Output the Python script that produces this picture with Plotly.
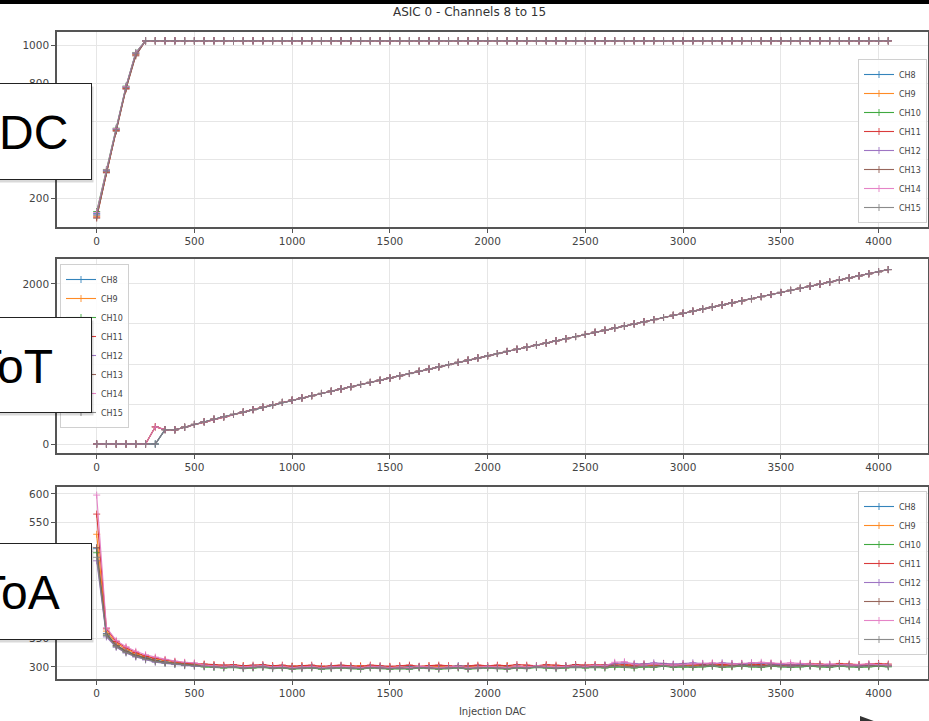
import plotly.graph_objects as go

W, H = 929, 721

# ---------------- data ----------------
CHANNELS = ["CH8", "CH9", "CH10", "CH11", "CH12", "CH13", "CH14", "CH15"]
COLORS = ["#1f77b4", "#ff7f0e", "#2ca02c", "#d62728", "#9467bd", "#8c564b", "#e377c2", "#7f7f7f"]

INJ_DAC = [
    0, 50, 100, 150, 200, 250, 300, 350, 400, 450,
    500, 550, 600, 650, 700, 750, 800, 850, 900, 950,
    1000, 1050, 1100, 1150, 1200, 1250, 1300, 1350, 1400, 1450,
    1500, 1550, 1600, 1650, 1700, 1750, 1800, 1850, 1900, 1950,
    2000, 2050, 2100, 2150, 2200, 2250, 2300, 2350, 2400, 2450,
    2500, 2550, 2600, 2650, 2700, 2750, 2800, 2850, 2900, 2950,
    3000, 3050, 3100, 3150, 3200, 3250, 3300, 3350, 3400, 3450,
    3500, 3550, 3600, 3650, 3700, 3750, 3800, 3850, 3900, 3950,
    4000, 4050,
]

# ADC: rising part (DAC 0..200) per channel, then saturation (DAC 250..4050)
ADC_RISE = {
    "CH8": [120, 345, 562, 782, 958],
    "CH9": [105, 338, 556, 776, 952],
    "CH10": [130, 350, 566, 786, 962],
    "CH11": [100, 335, 553, 773, 948],
    "CH12": [115, 342, 560, 780, 956],
    "CH13": [95, 332, 550, 770, 944],
    "CH14": [125, 348, 564, 784, 960],
    "CH15": [110, 340, 558, 778, 954],
}
ADC_SAT = [
    1023, 1023, 1023, 1023, 1023, 1023, 1023, 1023, 1023, 1023,
    1023, 1023, 1023, 1023, 1023, 1023, 1023, 1023, 1023, 1023,
    1023, 1023, 1023, 1023, 1023, 1023, 1023, 1023, 1023, 1023,
    1023, 1023, 1023, 1023, 1023, 1023, 1023, 1023, 1023, 1023,
    1023, 1023, 1023, 1023, 1023, 1023, 1023, 1023, 1023, 1023,
    1023, 1023, 1023, 1023, 1023, 1023, 1023, 1023, 1023, 1023,
    1023, 1023, 1023, 1023, 1023, 1023, 1023, 1023, 1023, 1023,
    1023, 1023, 1023, 1023, 1023, 1023, 1023,
]

# ToT: start (DAC 0..350), two behaviours, then common linear part (DAC 400..4050)
TOT_START_A = [0, 0, 0, 0, 0, 0, 215, 180]
TOT_START_B = [0, 0, 0, 0, 0, 0, 0, 180]
TOT_START_OF = {"CH8": "B", "CH9": "A", "CH10": "B", "CH11": "A",
                "CH12": "B", "CH13": "A", "CH14": "A", "CH15": "B"}
TOT_LINEAR = [
    178, 210, 245, 278, 310, 340, 370, 400, 430, 460,
    490, 520, 548, 576, 604, 632, 660, 688, 716, 744,
    770, 797, 825, 853, 881, 909, 937, 965, 993, 1020,
    1048, 1076, 1104, 1131, 1157, 1184, 1210, 1237, 1263, 1290,
    1316, 1343, 1369, 1396, 1422, 1449, 1475, 1502, 1528, 1555,
    1581, 1608, 1634, 1660, 1686, 1712, 1738, 1764, 1790, 1816,
    1842, 1868, 1894, 1920, 1946, 1972, 1998, 2024, 2050, 2076,
    2102, 2128, 2154, 2180,
]

# ToA: head (DAC 0..500) and tail (DAC 550..4050) per channel
TOA_HEAD = {
    "CH8": [505, 358, 338, 328, 321, 316, 312, 309, 307, 305, 304],
    "CH9": [530, 362, 341, 331, 323, 318, 314, 311, 308, 306, 305],
    "CH10": [498, 355, 336, 326, 319, 314, 310, 307, 305, 303, 302],
    "CH11": [565, 366, 344, 333, 325, 319, 315, 312, 309, 307, 306],
    "CH12": [484, 352, 334, 324, 317, 312, 308, 306, 304, 302, 301],
    "CH13": [507, 357, 337, 327, 320, 315, 311, 308, 306, 304, 303],
    "CH14": [598, 368, 346, 335, 327, 321, 317, 313, 310, 308, 307],
    "CH15": [490, 354, 335, 325, 318, 313, 309, 307, 305, 303, 302],
}
TOA_TAIL = {
    "CH8": [
        303, 302, 301, 302, 300, 301, 302, 300, 299, 301,
        300, 301, 299, 300, 302, 300, 299, 300, 301, 299,
        300, 301, 300, 299, 301, 300, 302, 301, 300, 301,
        299, 300, 301, 300, 302, 301, 300, 302, 303, 302,
        301, 303, 302, 301, 303, 302, 304, 302, 303, 302,
        303, 304, 302, 303, 302, 304, 303, 302, 303, 304,
        302, 303, 302, 304, 303, 302, 303, 302, 304, 303,
        302],
    "CH9": [
        304, 303, 302, 301, 302, 300, 301, 302, 300, 301,
        302, 300, 301, 299, 300, 301, 302, 300, 299, 300,
        301, 299, 300, 302, 300, 301, 299, 300, 301, 300,
        301, 302, 300, 301, 300, 302, 301, 300, 302, 301,
        303, 302, 301, 302, 304, 303, 302, 303, 301, 302,
        303, 302, 304, 303, 301, 302, 303, 304, 302, 303,
        301, 302, 303, 302, 301, 303, 302, 304, 302, 301,
        303],
    "CH10": [
        300, 299, 298, 299, 297, 298, 299, 297, 298, 296,
        297, 298, 296, 297, 298, 297, 296, 298, 297, 296,
        297, 296, 298, 297, 296, 297, 298, 296, 297, 298,
        297, 296, 298, 297, 299, 298, 297, 298, 299, 298,
        299, 298, 300, 299, 298, 300, 299, 301, 299, 300,
        299, 300, 301, 299, 300, 301, 300, 299, 301, 300,
        299, 300, 301, 300, 299, 301, 300, 299, 300, 301,
        300],
    "CH11": [
        305, 304, 303, 304, 302, 303, 304, 302, 303, 301,
        302, 303, 301, 302, 303, 302, 301, 303, 302, 301,
        302, 303, 301, 302, 303, 302, 301, 302, 303, 302,
        303, 302, 304, 303, 302, 304, 303, 302, 304, 303,
        304, 303, 305, 304, 303, 305, 304, 306, 304, 305,
        304, 305, 306, 304, 305, 306, 305, 304, 306, 305,
        304, 305, 306, 305, 304, 306, 305, 304, 305, 306,
        305],
    "CH12": [
        301, 300, 299, 300, 298, 299, 300, 298, 299, 297,
        298, 299, 297, 298, 299, 298, 297, 299, 298, 297,
        298, 297, 299, 298, 297, 298, 299, 297, 298, 299,
        298, 297, 299, 298, 300, 299, 298, 299, 300, 299,
        301, 302, 306, 307, 306, 305, 307, 306, 305, 306,
        307, 306, 305, 307, 306, 305, 307, 306, 305, 304,
        303, 304, 303, 302, 303, 304, 303, 302, 303, 304,
        303],
    "CH13": [
        302, 301, 300, 301, 299, 300, 301, 299, 300, 298,
        299, 300, 298, 299, 300, 299, 298, 300, 299, 298,
        299, 298, 300, 299, 298, 299, 300, 298, 299, 300,
        299, 298, 300, 299, 301, 300, 299, 300, 301, 300,
        301, 300, 302, 301, 300, 302, 301, 303, 301, 302,
        301, 302, 303, 301, 302, 303, 302, 301, 303, 302,
        301, 302, 303, 302, 301, 303, 302, 301, 302, 303,
        302],
    "CH14": [
        303, 302, 301, 302, 300, 301, 302, 300, 301, 299,
        300, 301, 299, 300, 301, 300, 299, 301, 300, 299,
        300, 299, 301, 300, 299, 300, 301, 299, 300, 301,
        300, 299, 301, 300, 302, 301, 300, 301, 302, 301,
        303, 302, 308, 309, 304, 303, 305, 304, 303, 304,
        305, 306, 307, 306, 305, 306, 307, 308, 307, 306,
        307, 306, 305, 304, 305, 304, 303, 304, 305, 304,
        303],
    "CH15": [
        301, 300, 299, 300, 298, 299, 300, 298, 299, 297,
        298, 299, 297, 298, 299, 298, 297, 299, 298, 297,
        298, 297, 299, 298, 297, 298, 299, 297, 298, 299,
        298, 297, 299, 298, 300, 299, 298, 299, 300, 299,
        300, 299, 301, 300, 299, 301, 300, 302, 300, 301,
        300, 301, 302, 300, 301, 302, 301, 300, 302, 301,
        300, 301, 302, 301, 300, 302, 301, 300, 301, 302,
        301],
}

TITLE = "ASIC 0 - Channels 8 to 15"
XLABEL = "Injection DAC"
PANEL_LABELS = ["ADC", "ToT", "ToA"]

# ---------------- figure ----------------
fig = go.Figure()

def add_trace(name, color, y, xa, ya, legend):
    fig.add_trace(go.Scatter(
        x=INJ_DAC, y=y, name=name, mode="lines+markers",
        line=dict(color=color, width=1.1),
        marker=dict(symbol="cross-thin", size=5, color=color,
                    line=dict(width=0.9, color=color)),
        xaxis=xa, yaxis=ya, legend=legend, opacity=0.9,
    ))

for ch, col in zip(CHANNELS, COLORS):
    add_trace(ch, col, ADC_RISE[ch] + ADC_SAT, "x", "y", "legend")
for ch, col in zip(CHANNELS, COLORS):
    start = TOT_START_A if TOT_START_OF[ch] == "A" else TOT_START_B
    add_trace(ch, col, start + TOT_LINEAR, "x2", "y2", "legend2")
for ch, col in zip(CHANNELS, COLORS):
    add_trace(ch, col, TOA_HEAD[ch] + TOA_TAIL[ch], "x3", "y3", "legend3")

def px_y(p):
    return 1 - p / H

def px_x(p):
    return p / W

TICKFONT = dict(family="DejaVu Sans", size=10.5, color="#444")
xcommon = dict(range=[-203, 4253], tick0=0, dtick=500, ticks="outside", ticklen=4,
               tickcolor="#555", showline=True, linecolor="#555", linewidth=1.5,
               mirror=True, showgrid=True, gridcolor="#e6e6e6", gridwidth=1,
               zeroline=False, tickfont=TICKFONT, domain=[px_x(57), px_x(928)])
ycommon = dict(ticks="outside", ticklen=4, tickcolor="#555", showline=True,
               linecolor="#555", linewidth=1.5, mirror=True, showgrid=True,
               gridcolor="#e6e6e6", gridwidth=1, zeroline=False, tickfont=TICKFONT)

legcommon = dict(font=dict(family="DejaVu Sans", size=8, color="#444"),
                 bgcolor="rgba(255,255,255,0.85)", bordercolor="#d0d0d0",
                 borderwidth=1, itemwidth=30, tracegroupgap=0)

fig.update_layout(
    width=W, height=H, margin=dict(l=0, r=0, t=0, b=0),
    paper_bgcolor="white", plot_bgcolor="white", showlegend=True,
    xaxis=dict(anchor="y", **xcommon),
    yaxis=dict(anchor="x", domain=[px_y(227), px_y(32)], range=[49, 1069],
               tick0=0, dtick=200, **ycommon),
    xaxis2=dict(anchor="y2", **xcommon),
    yaxis2=dict(anchor="x2", domain=[px_y(453), px_y(259)], range=[-112, 2312],
                tick0=0, dtick=500, **ycommon),
    xaxis3=dict(anchor="y3", title=dict(text=XLABEL, standoff=10,
                font=dict(family="DejaVu Sans", size=10, color="#444")), **xcommon),
    yaxis3=dict(anchor="x3", domain=[px_y(679), px_y(487)], range=[279, 612],
                tick0=0, dtick=50, **ycommon),
    legend=dict(x=px_x(927), xanchor="right", y=px_y(223), yanchor="bottom", **legcommon),
    legend2=dict(x=px_x(60), xanchor="left", y=px_y(264), yanchor="top", **legcommon),
    legend3=dict(x=px_x(927), xanchor="right", y=px_y(491), yanchor="top", **legcommon),
)

annotations = [
    dict(text=TITLE, x=px_x(469), y=px_y(12), xref="paper", yref="paper",
         xanchor="center", yanchor="middle", showarrow=False,
         font=dict(family="DejaVu Sans", size=12, color="#333")),
]

# overlay label boxes: (top, bottom, right end of the label text) in pixels
boxes = [(83, 180, 69), (317, 413, 54), (543, 640, 61)]
for (top, bot, txt_right), label in zip(boxes, PANEL_LABELS):
    h = bot - top
    # soft shadow
    annotations.append(dict(text=" ", x=px_x(94), y=px_y(top + 3), xref="paper", yref="paper",
                            xanchor="right", yanchor="top", showarrow=False,
                            width=150, height=h - 2, borderpad=0, borderwidth=1,
                            bordercolor="rgba(0,0,0,0)", bgcolor="rgba(0,0,0,0.15)"))
    annotations.append(dict(text=" ", x=px_x(92), y=px_y(top), xref="paper", yref="paper",
                            xanchor="right", yanchor="top", showarrow=False,
                            width=150, height=h - 2, borderpad=0, borderwidth=1,
                            bordercolor="#222", bgcolor="white"))
    annotations.append(dict(text=label, x=px_x(txt_right), y=px_y((top + bot) / 2 + 1),
                            xref="paper", yref="paper", xanchor="right", yanchor="middle",
                            showarrow=False, borderpad=0,
                            font=dict(family="Liberation Sans", size=48, color="black")))

fig.update_layout(annotations=annotations)

fig.update_layout(shapes=[
    dict(type="rect", xref="paper", yref="paper", x0=0, x1=1, y0=px_y(4), y1=1.01,
         fillcolor="black", line=dict(width=0), layer="above"),
    dict(type="path", xref="paper", yref="paper",
         path=f"M {px_x(860)},{px_y(716)} L {px_x(882)},{px_y(724)} L {px_x(860)},{px_y(732)} Z",
         fillcolor="#333", line=dict(width=0), layer="above"),
])

fig.write_html(
    "out.html",
    config={"displayModeBar": False},
    post_script="document.body.style.margin='0';document.body.style.overflow='hidden';",
)
